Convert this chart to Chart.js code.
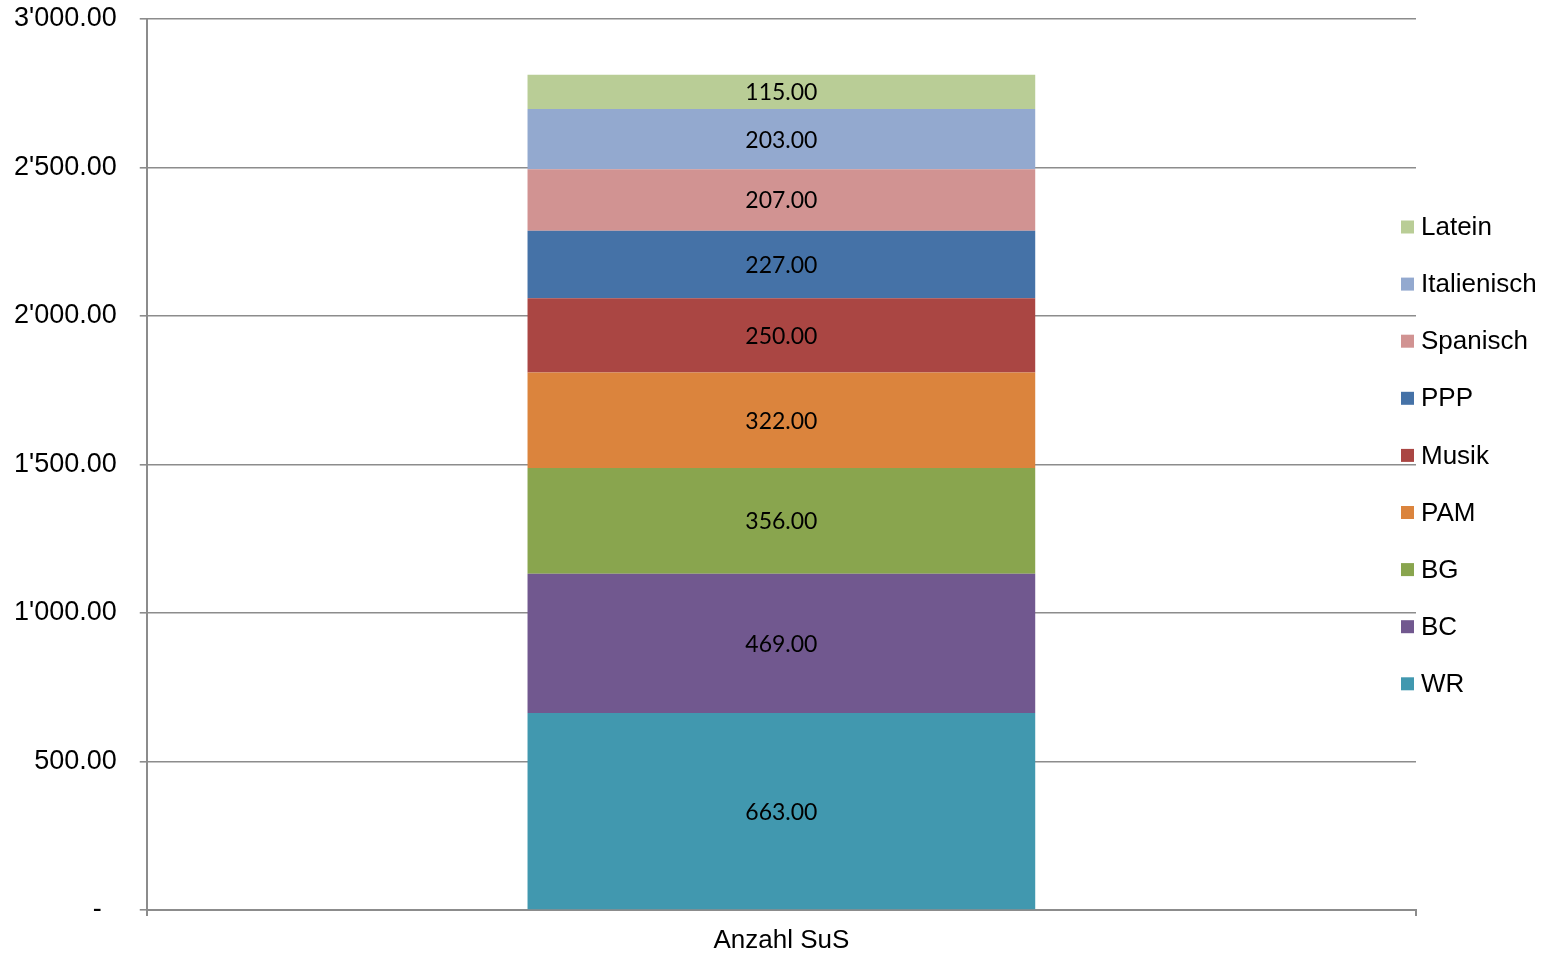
<!DOCTYPE html>
<html>
<head>
<meta charset="utf-8">
<script src="https://cdn.jsdelivr.net/npm/chart.js@4.4.1/dist/chart.umd.min.js"></script>
<style>
  html, body { margin: 0; padding: 0; background: #fff; }
  #wrap { width: 1554px; height: 954px; }
</style>
</head>
<body>
<div id="wrap"><canvas id="canvas"></canvas></div>
<script>
// data
const categories = ["Anzahl SuS"];
const seriesNames = ["WR", "BC", "BG", "PAM", "Musik", "PPP", "Spanisch", "Italienisch", "Latein"];
const seriesValues = [663, 469, 356, 322, 250, 227, 207, 203, 115];
const seriesColors = ["#4198AF", "#71588F", "#89A54E", "#DB843D", "#AA4643", "#4572A7", "#D19392", "#93A9CF", "#B9CD96"];
const yTicks = [0, 500, 1000, 1500, 2000, 2500, 3000];

const gridGray = "#8c8c8c";

function fmt(v) {
  if (v === 0) return "-  ";
  let parts = v.toFixed(2).split(".");
  parts[0] = parts[0].replace(/\B(?=(\d{3})+(?!\d))/g, "'");
  return parts.join(".");
}

// value labels in the middle of each segment
const valueLabels = {
  id: "valueLabels",
  afterDatasetsDraw(chart) {
    const ctx = chart.ctx;
    ctx.save();
    ctx.font = "23px Lato";
    ctx.fillStyle = "#000";
    ctx.textAlign = "center";
    ctx.textBaseline = "middle";
    chart.data.datasets.forEach((ds, i) => {
      chart.getDatasetMeta(i).data.forEach((bar, j) => {
        const y = (bar.y + bar.base) / 2;
        ctx.fillText(ds.data[j].toFixed(2), bar.x, y + 1);
      });
    });
    ctx.restore();
  }
};

// legend drawn at the right, over the grid ends (Excel style)
const sideLegend = {
  id: "sideLegend",
  afterDraw(chart) {
    const ctx = chart.ctx;
    const n = chart.data.datasets.length;
    const step = 57.1;
    const x0 = chart.chartArea.right - 15;
    const yTop = 227;
    ctx.save();
    ctx.font = "26px 'Liberation Sans', Arial";
    ctx.textBaseline = "middle";
    ctx.textAlign = "left";
    for (let k = 0; k < n; k++) {
      const ds = chart.data.datasets[n - 1 - k];
      const y = yTop + k * step;
      ctx.fillStyle = ds.backgroundColor;
      ctx.fillRect(x0, y - 6.5, 13, 13);
      ctx.fillStyle = "#000";
      ctx.fillText(ds.label, x0 + 20, y + 1);
    }
    ctx.restore();
  }
};

const chart1 = new Chart(document.getElementById("canvas"), {
  type: "bar",
  data: {
    labels: categories,
    datasets: seriesNames.map((name, i) => ({
      label: name,
      data: [seriesValues[i]],
      backgroundColor: seriesColors[i],
      borderWidth: 0,
      barPercentage: 0.4,
      categoryPercentage: 1.0
    }))
  },
  options: {
    responsive: true,
    maintainAspectRatio: false,
    animation: false,
    layout: { padding: { top: 0, right: 138, bottom: 0, left: -9 } },
    plugins: {
      legend: { display: false },
      tooltip: { enabled: false },
      title: { display: false }
    },
    scales: {
      x: {
        stacked: true,
        afterFit(axis) { axis.height = 44; },
        grid: { display: true, drawOnChartArea: false, offset: true, color: gridGray, lineWidth: 2, tickLength: 6 },
        border: { color: gridGray, width: 2 },
        ticks: { color: "#000", font: { family: "'Liberation Sans', Arial", size: 26, lineHeight: 1.0 }, padding: 12 }
      },
      y: {
        stacked: true,
        min: 0,
        max: 3000,
        afterBuildTicks(axis) { axis.ticks = yTicks.map(v => ({ value: v })); },
        afterFit(axis) { axis.paddingTop = 19; axis.paddingBottom = 0; },
        grid: { color: gridGray, lineWidth: 1.6, tickLength: 7 },
        border: { color: gridGray, width: 2 },
        ticks: {
          color: "#000",
          font: { family: "'Liberation Sans', Arial", size: 27 },
          padding: 23,
          callback: v => fmt(v)
        }
      }
    }
  },
  plugins: [valueLabels, sideLegend]
});
</script>
</body>
</html>
